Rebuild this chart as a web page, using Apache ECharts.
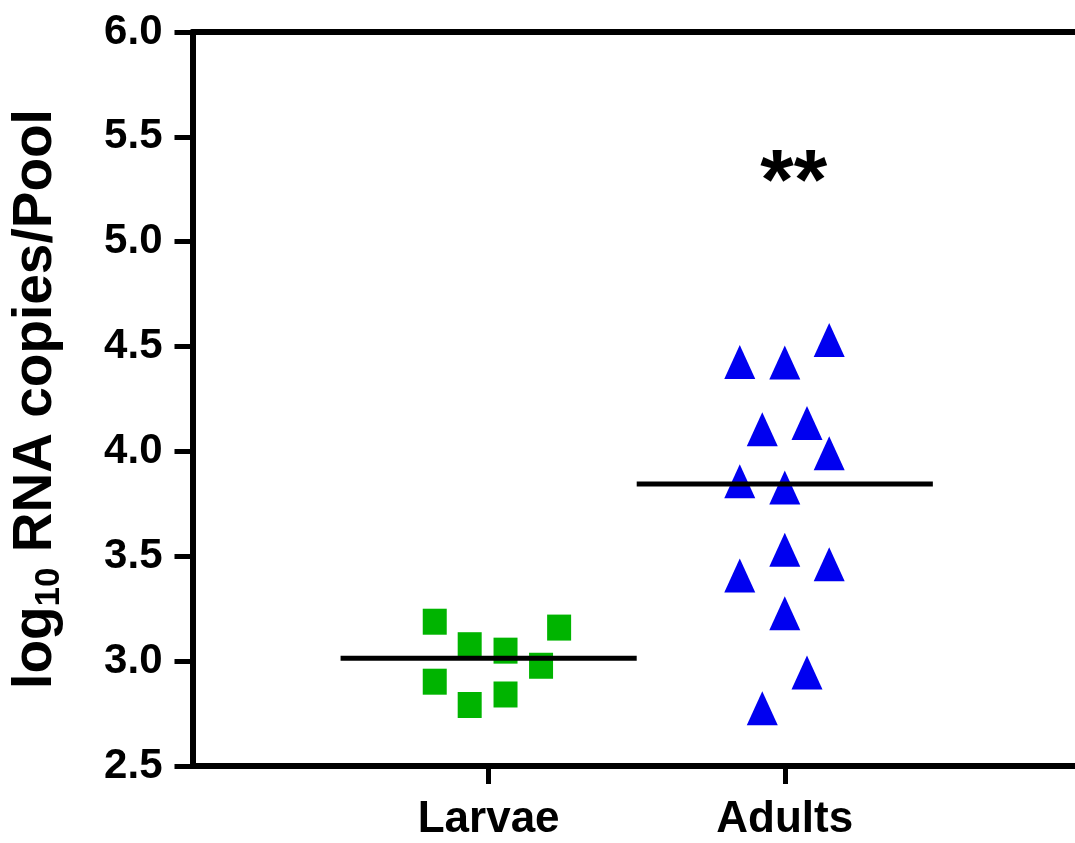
<!DOCTYPE html>
<html>
<head>
<meta charset="utf-8">
<script src="https://cdn.jsdelivr.net/npm/echarts@6/dist/echarts.min.js"></script>
<style>
html,body{margin:0;padding:0;background:#fff;}
#chart{width:1075px;height:843px;}
</style>
</head>
<body>
<div id="chart"></div>
<script>
// ---- data ----
const categories = ['Larvae', 'Adults'];          // placed at x = 1 and x = 2
const yTicks = [2.5, 3.0, 3.5, 4.0, 4.5, 5.0, 5.5, 6.0];

const larvaeX = [0.818, 0.936, 1.057, 1.238, 1.177, 0.818, 0.936, 1.057];
const larvaeY = [3.188, 3.076, 3.050, 3.160, 2.978, 2.902, 2.791, 2.841];

const adultsX = [1.848, 2.000, 2.150, 1.924, 2.075, 2.150, 1.848, 2.000, 2.000, 1.848, 2.150, 2.000, 2.075, 1.924];
const adultsY = [4.426, 4.424, 4.531, 4.106, 4.136, 3.991, 3.858, 3.828, 3.531, 3.408, 3.462, 3.228, 2.946, 2.775];

const medians = [3.014, 3.845];                   // horizontal lines, one per group
const medianHalfWidth = 0.5;

const annotationText = '**';
const annotationPos = [2.03, 5.35];

// ---- build ----
const FONT = 'Arial, "Liberation Sans", Helvetica, sans-serif';
const X_MIN = 0, X_MAX = 2.98;
const larvaeData = larvaeX.map((x, i) => [x, larvaeY[i]]);
const adultsData = adultsX.map((x, i) => [x, adultsY[i]]);
const medianSeries = medians.map((m, i) => ({
  type: 'line',
  data: [[i + 1 - medianHalfWidth, m], [i + 1 + medianHalfWidth, m]],
  symbol: 'none',
  lineStyle: { color: '#000', width: 5, opacity: 1 },
  silent: true,
  z: 3
}));

const chart = echarts.init(document.getElementById('chart'), null, { renderer: 'canvas' });
chart.setOption({
  animation: false,
  backgroundColor: '#fff',
  grid: { left: 188, top: 32, right: 0, bottom: 77 },
  xAxis: [
    {
      type: 'value', min: X_MIN, max: X_MAX,
      splitLine: { show: false },
      axisLine: { show: true, lineStyle: { color: '#000', width: 6 } },
      axisTick: { show: true, length: 18, lineStyle: { color: '#000', width: 5 }, customValues: [1, 2] },
      axisLabel: {
        customValues: [1, 2],
        formatter: v => categories[Math.round(v) - 1] || '',
        margin: 32, fontSize: 44, fontWeight: 'bold', color: '#000', fontFamily: FONT
      }
    },
    {
      type: 'value', position: 'top', min: X_MIN, max: X_MAX,
      splitLine: { show: false },
      axisLine: { show: true, lineStyle: { color: '#000', width: 6 } },
      axisTick: { show: false },
      axisLabel: { show: false }
    }
  ],
  yAxis: {
    type: 'value', min: yTicks[0], max: yTicks[yTicks.length - 1], interval: 0.5,
    splitLine: { show: false },
    axisLine: { show: true, lineStyle: { color: '#000', width: 6 } },
    axisTick: { show: true, length: 18, lineStyle: { color: '#000', width: 5 } },
    axisLabel: {
      formatter: v => v.toFixed(1),
      margin: 30, fontSize: 42, fontWeight: 'bold', color: '#000', fontFamily: FONT
    },
    name: '{a|log}{sub|10}{a| RNA copies/Pool}',
    nameLocation: 'middle',
    nameRotate: 90,
    nameGap: 126,
    nameTextStyle: {
      rich: {
        a: { fontSize: 55, fontWeight: 'bold', color: '#000', fontFamily: FONT, lineHeight: 62 },
        sub: { fontSize: 35, fontWeight: 'bold', color: '#000', fontFamily: FONT, lineHeight: 62, verticalAlign: 'bottom', padding: [15, 0, 0, 0] }
      }
    }
  },
  series: [
    {
      name: 'Larvae', type: 'scatter', data: larvaeData,
      symbol: 'rect', symbolSize: [24, 26],
      itemStyle: { color: '#00B400', opacity: 1 }, z: 2
    },
    {
      name: 'Adults', type: 'scatter', data: adultsData,
      symbol: 'triangle', symbolSize: [31, 34],
      itemStyle: { color: '#0000F0', opacity: 1 }, z: 2
    },
    ...medianSeries,
    {
      type: 'scatter', data: [annotationPos], symbolSize: 0, silent: true,
      itemStyle: { opacity: 1 },
      label: {
        show: true, position: 'inside', formatter: annotationText,
        fontSize: 86, fontWeight: 'bold', color: '#000', fontFamily: FONT, offset: [0, 17]
      }
    }
  ]
});
</script>
</body>
</html>
